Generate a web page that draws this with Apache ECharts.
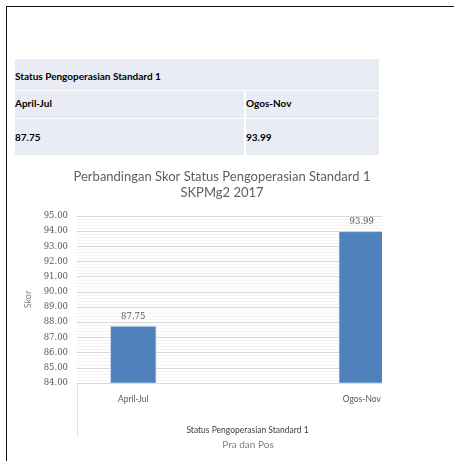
<!DOCTYPE html>
<html>
<head>
<meta charset="utf-8">
<script src="https://cdn.jsdelivr.net/npm/echarts@6/dist/echarts.min.js"></script>
<style>
  html, body { margin: 0; padding: 0; background: #fff; }
  body { width: 454px; height: 461px; position: relative; overflow: hidden; }
  .frame { position: absolute; left: 6px; top: 6px; width: 460px; height: 470px;
           border-left: 1.5px solid #111; border-top: 1.5px solid #111; }
  .cell { position: absolute; background: #e9ecf5; }
  .txt { position: absolute; font-family: Lato, sans-serif; font-weight: bold; font-size: 10px;
         color: #000; line-height: 12px; }
  .clip { position: absolute; left: 0; top: 0; width: 382px; height: 461px; overflow: hidden; }
  #chart { width: 500px; height: 461px; }
</style>
</head>
<body>
<div class="frame"></div>

<div class="cell" style="left:15px;top:59px;width:364px;height:31px"></div>
<div class="cell" style="left:15px;top:91px;width:229px;height:27px"></div>
<div class="cell" style="left:246px;top:91px;width:133px;height:27px"></div>
<div class="cell" style="left:15px;top:119px;width:229px;height:36px"></div>
<div class="cell" style="left:246px;top:119px;width:133px;height:36px"></div>

<div class="txt" style="left:15px;top:70px">Status Pengoperasian Standard 1</div>
<div class="txt" style="left:15px;top:97px">April-Jul</div>
<div class="txt" style="left:246px;top:97px">Ogos-Nov</div>
<div class="txt" style="left:15px;top:131px">87.75</div>
<div class="txt" style="left:246px;top:131px">93.99</div>

<div class="clip"><div id="chart"></div></div>

<script>
const categories = ['April-Jul', 'Ogos-Nov'];
const scores = [87.75, 93.99];
const yMin = 84;
const yMax = 95;

const chart = echarts.init(document.getElementById('chart'), null, { renderer: 'canvas' });

const option = {
  backgroundColor: 'transparent',
  animation: false,
  title: [
    {
      text: 'Perbandingan Skor Status Pengoperasian Standard 1\nSKPMg2 2017',
      left: 222,
      textAlign: 'center',
      top: 169,
      padding: 0,
      textStyle: { fontFamily: 'Lato', fontWeight: 'normal', fontSize: 13, color: '#5f5f5f', lineHeight: 16 }
    },
    {
      text: 'Pra dan Pos',
      left: 248,
      top: 440,
      padding: 0,
      textAlign: 'center',
      textStyle: { fontFamily: 'Lato', fontWeight: 'normal', fontSize: 10, color: '#7f7f7f' }
    }
  ],
  grid: [
    { left: 77, top: 216, height: 167, width: 400 },
    { left: 19, top: 216, height: 167, width: 457 }
  ],
  xAxis: [
    { gridIndex: 0, type: 'category', data: categories, show: false },
    {
      gridIndex: 1,
      type: 'category',
      data: categories,
      axisLine: { show: false },
      axisTick: { show: false },
      axisLabel: { margin: 12, fontFamily: 'Lato', fontSize: 8.5, color: '#595959' },
      name: 'Status Pengoperasian Standard 1',
      nameLocation: 'middle',
      nameGap: 43,
      nameTextStyle: { fontFamily: 'Lato', fontSize: 8.5, color: '#404040' }
    }
  ],
  yAxis: [
    {
      gridIndex: 0,
      type: 'value',
      min: yMin,
      max: yMax,
      interval: 1,
      axisLine: { show: false },
      axisTick: { show: false },
      axisLabel: {
        margin: 9,
        fontFamily: 'DejaVu Serif',
        fontSize: 8.5,
        color: '#595959',
        formatter: v => v.toFixed(2)
      },
      splitLine: { show: true, lineStyle: { color: '#d9d9d9', width: 1 } },
      minorTick: { show: false, splitNumber: 5 },
      minorSplitLine: { show: true, lineStyle: { color: '#f3f3f3', width: 1 } },
      name: 'Skor',
      nameLocation: 'middle',
      nameGap: 38,
      nameTextStyle: { fontFamily: 'Lato', fontSize: 9, color: '#7f7f7f' }
    },
    { gridIndex: 1, type: 'value', min: yMin, max: yMax, show: false, splitLine: { show: false } }
  ],
  series: [
    {
      type: 'bar',
      xAxisIndex: 1,
      yAxisIndex: 1,
      data: scores,
      barWidth: 46,
      itemStyle: { color: '#4f81bd', borderColor: '#dbe5f1', borderWidth: 0.6 },
      label: {
        show: true,
        position: 'top',
        distance: 5,
        fontFamily: 'DejaVu Serif',
        fontSize: 8.5,
        color: '#595959',
        formatter: p => p.value.toFixed(2)
      }
    }
  ],
  graphic: [
    {
      type: 'line',
      shape: { x1: 77.5, y1: 383, x2: 77.5, y2: 437 },
      style: { stroke: '#e0e0e0', lineWidth: 1 }
    }
  ]
};

chart.setOption(option);
</script>
</body>
</html>
